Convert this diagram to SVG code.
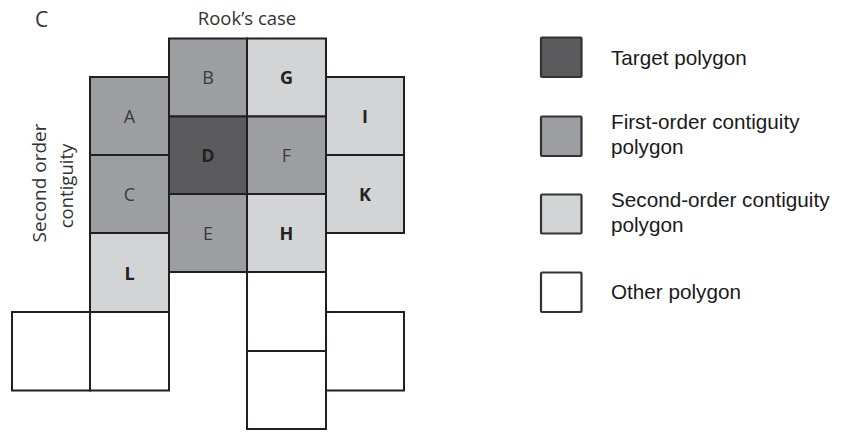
<svg xmlns="http://www.w3.org/2000/svg" width="842" height="438" viewBox="0 0 842 438">
<style>
.cell{stroke:#231f20;stroke-width:2}
.t{fill:#5b5b5d}.f{fill:#9d9ea1}.s{fill:#d3d4d5}.o{fill:#ffffff}
.lab{font-family:"Open Sans","DejaVu Sans",sans-serif;font-size:18px;fill:#3a3a3a;text-anchor:middle}
.b{font-weight:bold;fill:#222}
.hd{font-family:"Open Sans","DejaVu Sans",sans-serif;fill:#333}
.leg{stroke:#333;stroke-width:2.2}
.lt{font-family:"Liberation Sans",Arial,sans-serif;font-size:20.7px;fill:#1a1a1a}
</style>
<rect width="842" height="438" fill="#fff"/>
<text class="hd" x="35" y="26.5" font-size="21">C</text>
<text class="hd" x="247" y="25" font-size="18.5" text-anchor="middle">Rook’s case</text>
<text class="hd" font-size="18.5" text-anchor="middle" textLength="119" lengthAdjust="spacingAndGlyphs" transform="translate(46,183) rotate(-90)">Second order</text>
<text class="hd" font-size="18.5" text-anchor="middle" transform="translate(73,186) rotate(-90)">contiguity</text>
<g id="cells">
<g id="B"><rect class="cell f" x="169" y="38.5" width="78" height="78"/><text class="lab" x="208" y="84">B</text></g>
<g id="G"><rect class="cell s" x="247" y="38.5" width="79" height="78"/><text class="lab b" x="286.5" y="84">G</text></g>
<g id="A"><rect class="cell f" x="90" y="77" width="79" height="78"/><text class="lab" x="129.5" y="123">A</text></g>
<g id="I"><rect class="cell s" x="326" y="77" width="78" height="78"/><text class="lab b" x="365" y="123">I</text></g>
<g id="D"><rect class="cell t" x="169" y="116.5" width="78" height="77.5"/><text class="lab b" x="208" y="162">D</text></g>
<g id="F"><rect class="cell f" x="247" y="116.5" width="79" height="77.5"/><text class="lab" x="286.5" y="162">F</text></g>
<g id="Cc"><rect class="cell f" x="90" y="155" width="79" height="78"/><text class="lab" x="129.5" y="201">C</text></g>
<g id="K"><rect class="cell s" x="326" y="155" width="78" height="78"/><text class="lab b" x="365" y="201">K</text></g>
<g id="E"><rect class="cell f" x="169" y="194" width="78" height="78"/><text class="lab" x="208" y="240">E</text></g>
<g id="H"><rect class="cell s" x="247" y="194" width="79" height="78"/><text class="lab b" x="286.5" y="240">H</text></g>
<g id="L"><rect class="cell s" x="90" y="233" width="79" height="79"/><text class="lab b" x="129.5" y="280">L</text></g>
<g id="O1"><rect class="cell o" x="12" y="312" width="78" height="78.5"/></g>
<g id="O2"><rect class="cell o" x="90" y="312" width="79" height="78.5"/></g>
<g id="O3"><rect class="cell o" x="247" y="272" width="79" height="79"/></g>
<g id="O4"><rect class="cell o" x="247" y="351" width="79" height="78"/></g>
<g id="O5"><rect class="cell o" x="326" y="312" width="78" height="78.5"/></g>
</g>
<g id="connectors"></g>
<g id="legend">
<g id="leg-target"><rect class="leg t" x="541" y="37.5" width="40.5" height="39.5" rx="1"/><text class="lt" x="611" y="65">Target polygon</text></g>
<g id="leg-first"><rect class="leg f" x="541" y="116.5" width="40.5" height="39.5" rx="1"/><text class="lt" x="611" y="129">First-order contiguity</text><text class="lt" x="611" y="154">polygon</text></g>
<g id="leg-second"><rect class="leg s" x="541" y="194.5" width="40.5" height="39" rx="1"/><text class="lt" x="611" y="207">Second-order contiguity</text><text class="lt" x="611" y="232">polygon</text></g>
<g id="leg-other"><rect class="leg o" x="541" y="272.5" width="40.5" height="39.5" rx="1"/><text class="lt" x="611" y="299">Other polygon</text></g>
</g>
</svg>
